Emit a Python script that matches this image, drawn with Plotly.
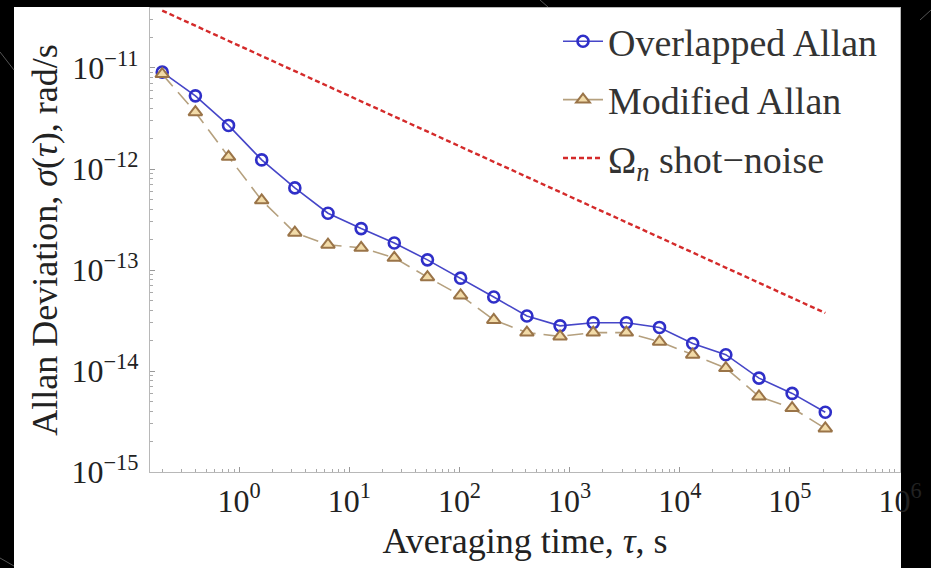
import plotly.graph_objects as go

# ---- data ----
tau = [0.2, 0.4, 0.8, 1.6, 3.2, 6.4, 12.8, 25.6, 51.2, 102.4, 204.8, 409.6,
       819.2, 1638.4, 3276.8, 6553.6, 13107.2, 26214.4, 52428.8, 104857.6, 209715.2]
overlapped = [9.1e-12, 5.3e-12, 2.7e-12, 1.23e-12, 6.5e-13, 3.65e-13, 2.57e-13,
              1.85e-13, 1.26e-13, 8.3e-14, 5.4e-14, 3.5e-14, 2.8e-14, 3.0e-14,
              3.0e-14, 2.7e-14, 1.87e-14, 1.45e-14, 8.5e-15, 6.0e-15, 3.9e-15]
modified = [8.7e-12, 3.65e-12, 1.32e-12, 4.9e-13, 2.34e-13, 1.78e-13, 1.66e-13,
            1.32e-13, 8.5e-14, 5.6e-14, 3.2e-14, 2.4e-14, 2.2e-14, 2.4e-14,
            2.4e-14, 1.95e-14, 1.45e-14, 1.07e-14, 5.6e-15, 4.3e-15, 2.7e-15]
shot_tau = [0.2, 209715.2]
shot_sigma = [3.7e-11, 3.75e-14]

x_tickvals = [1, 10, 100, 1e3, 1e4, 1e5, 1e6]
x_ticktext = ["10<sup>0</sup>", "10<sup>1</sup>", "10<sup>2</sup>", "10<sup>3</sup>",
              "10<sup>4</sup>", "10<sup>5</sup>", "10<sup>6</sup>"]
y_tickvals = [1e-15, 1e-14, 1e-13, 1e-12, 1e-11]
y_ticktext = ["10<sup>−15</sup>", "10<sup>−14</sup>", "10<sup>−13</sup>",
              "10<sup>−12</sup>", "10<sup>−11</sup>"]

names = ["Overlapped Allan", "Modified Allan", "Ω<sub><i>n</i></sub> shot−noise"]
x_title = "Averaging time, <i>τ</i>, s"
y_title = "Allan Deviation, <i>σ</i>(<i>τ</i>), rad/s"

FONT = "Liberation Serif"
W, H = 931, 568
L, R, T, B = 150, 31, 8, 96

fig = go.Figure()
fig.add_trace(go.Scatter(
    x=tau, y=overlapped, mode="lines+markers", name=names[0], legendgroup="a",
    line=dict(color="#4646c8", width=1.6),
    marker=dict(symbol="circle-open", size=11, color="#2f2fc8", line=dict(width=2.6)),
))
fig.add_trace(go.Scatter(
    x=tau, y=modified, mode="lines+markers", name=names[1], legendgroup="b",
    line=dict(color="#b5a07e", width=1.6, dash="16px,8px"),
    marker=dict(symbol="triangle-up", size=12, color="#f2dba8",
                line=dict(width=2, color="#9a7448")),
))
fig.add_trace(go.Scatter(
    x=shot_tau, y=shot_sigma, mode="lines", name=names[2], legendgroup="c",
    line=dict(color="#d42a2a", width=2.4, dash="5px,3px"),
))

def px2paper_x(px):
    return (px - L) / (W - L - R)

def px2paper_y(py):
    return (H - B - py) / (H - T - B)

# white panel on the black slide background
fig.add_shape(type="rect", xref="paper", yref="paper", layer="below",
              x0=px2paper_x(14), x1=px2paper_x(901), y0=px2paper_y(569), y1=px2paper_y(7),
              fillcolor="white", line=dict(width=0))
# faint decorative slide lines
for (xa, ya, xb, yb) in [(0, 52, 14, 70), (540, 0, 548, 7), (0, 558, 14, 566), (920, 20, 931, 10)]:
    fig.add_shape(type="line", xref="paper", yref="paper", layer="below",
                  x0=px2paper_x(xa), y0=px2paper_y(ya), x1=px2paper_x(xb), y1=px2paper_y(yb),
                  line=dict(color="#555555", width=1))

axis_common = dict(
    type="log", showgrid=False, zeroline=False, showline=True, mirror=True,
    linecolor="#b8b8b8", linewidth=1.2, ticks="inside", ticklen=5, tickcolor="#999999",
    automargin=False,
    tickfont=dict(family=FONT, size=32, color="#222222"),
    minor=dict(dtick="D1", ticks="inside", ticklen=3, tickcolor="#aaaaaa", showgrid=False),
)

fig.update_xaxes(**axis_common, range=[-0.81, 6.0], tickmode="array",
                 tickvals=x_tickvals, ticktext=x_ticktext,
                 title=dict(text=x_title, font=dict(family=FONT, size=36, color="#222222"), standoff=10))
fig.update_yaxes(**axis_common, range=[-15, -10.406], tickmode="array",
                 tickvals=y_tickvals, ticktext=y_ticktext, ticklabelstandoff=4,
                 title=dict(text=y_title, font=dict(family=FONT, size=36, color="#222222"), standoff=2))

fig.update_layout(
    width=W, height=H,
    margin=dict(l=L, r=R, t=T, b=B),
    paper_bgcolor="black", plot_bgcolor="white",
    showlegend=True,
    legend=dict(x=px2paper_x(558), y=px2paper_y(10), xanchor="left", yanchor="top",
                bgcolor="rgba(0,0,0,0)", font=dict(family=FONT, size=38, color="#333333"),
                tracegroupgap=6, itemwidth=40),
)

fig.write_html("out.html", config={"displayModeBar": False},
               post_script="document.body.style.margin='0';document.body.style.background='black';")
